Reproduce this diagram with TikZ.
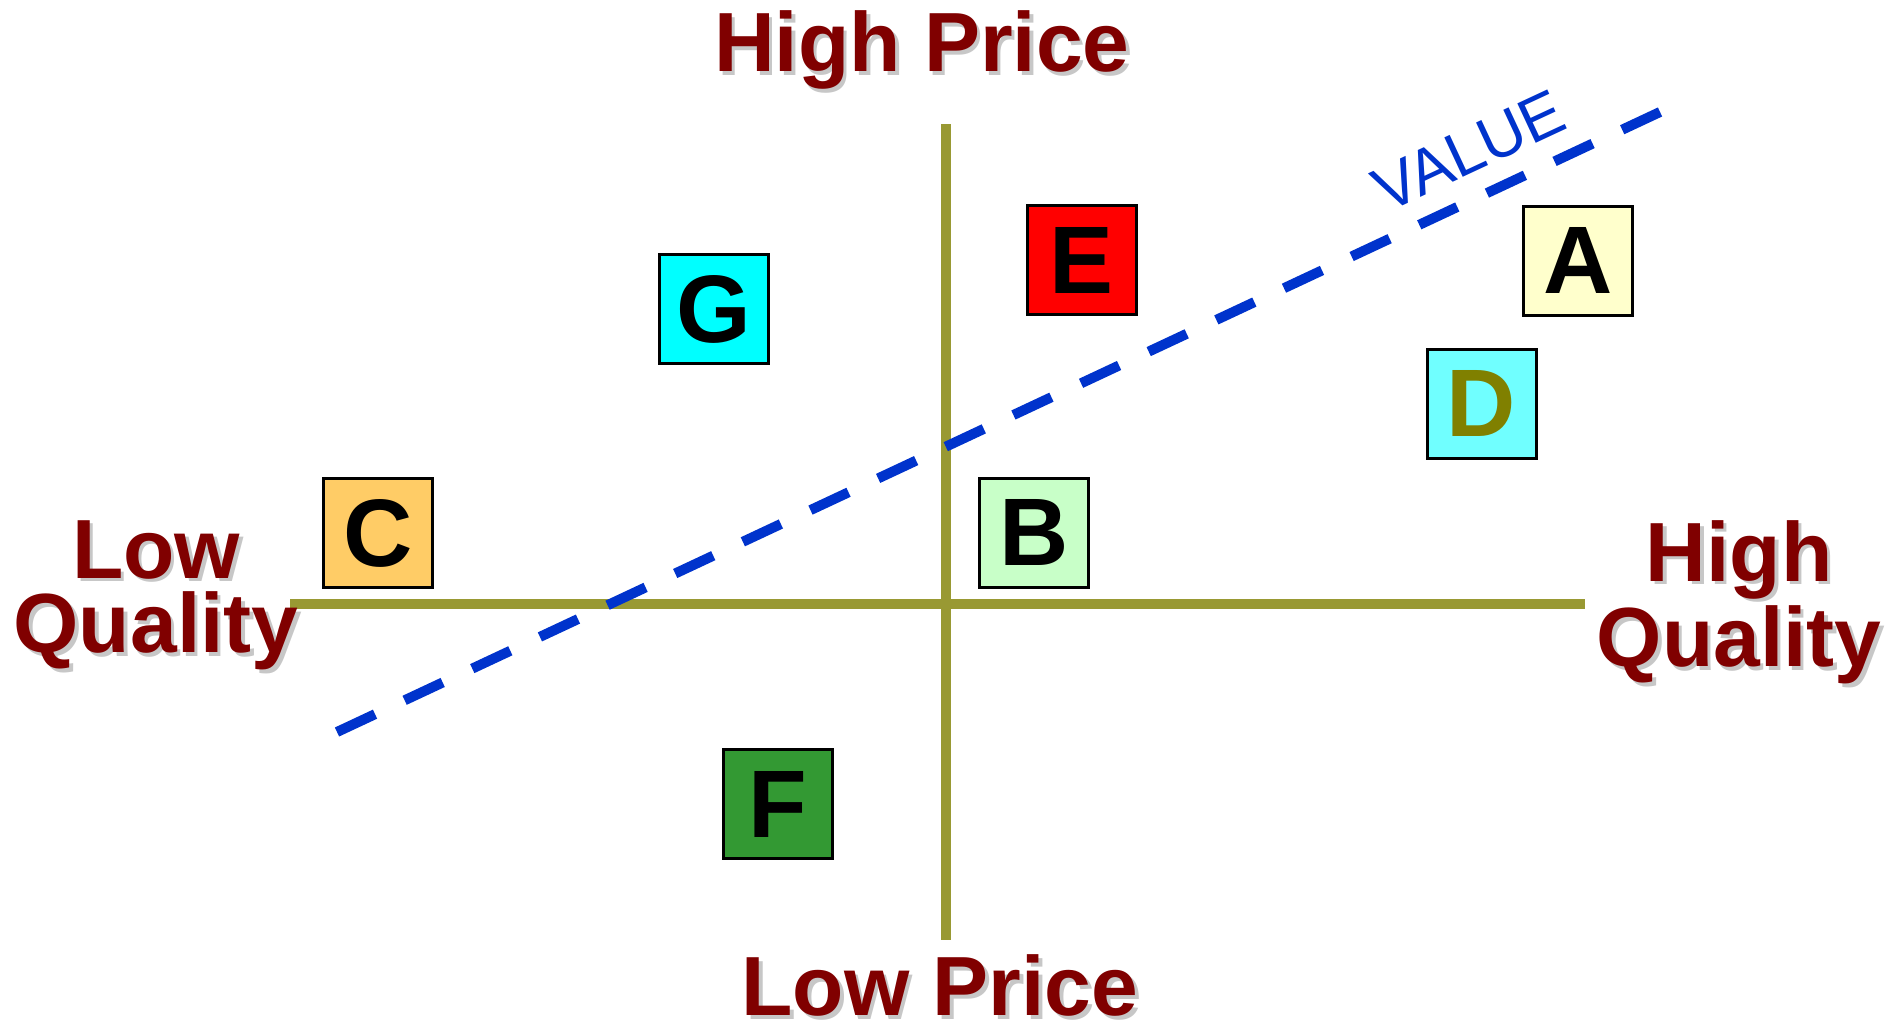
\documentclass[tikz,border=0pt]{standalone}
\usepackage{fontspec}
\setmainfont{Liberation Sans}
\usetikzlibrary{positioning}

\definecolor{labelred}{HTML}{800000}
\definecolor{axisolive}{HTML}{999933}
\definecolor{valueblue}{HTML}{0033CC}
\definecolor{darkolive}{HTML}{808000}
\definecolor{paleyellow}{HTML}{FFFFCC}
\definecolor{palegreen}{HTML}{C8FFC8}
\definecolor{lightorange}{HTML}{FFCC66}
\definecolor{lightcyan}{HTML}{70FFFF}
\definecolor{brightcyan}{HTML}{00FFFF}
\definecolor{brightred}{HTML}{FF0000}
\definecolor{midgreen}{HTML}{339933}

% soft drop shadow behind the axis labels
\newcommand{\shadowtxt}[1]{\makebox[0pt][l]{\hspace{0.035cm}\raisebox{-0.035cm}{\color{black!22}#1}}#1}

\begin{document}
\begin{tikzpicture}[
  axisline/.style={draw=axisolive,line width=0.1cm},
  valueline/.style={draw=valueblue,line width=0.1cm,dash pattern=on 0.42cm off 0.327cm},
  endlabel/.style={text=labelred,font=\fontsize{23.9}{21.3}\selectfont\bfseries,
    align=center,anchor=base,inner sep=0pt},
  brand/.style={rectangle,draw=black,line width=0.03cm,minimum size=1.09cm,
    inner sep=0pt,font=\fontsize{27.3}{32}\selectfont\bfseries}
]
\useasboundingbox (0,0) rectangle (18.91,10.22);

% axes
\coordinate (ptop) at (9.46,8.98);
\coordinate (pbot) at (9.46,0.82);
\coordinate (qleft) at (2.90,4.18);
\coordinate (qright) at (15.85,4.18);
\draw[axisline] (pbot) -- (ptop);
\draw[axisline] (qleft) -- (qright);

% value line
\coordinate (vstart) at (3.37,2.90);
\coordinate (vend) at (16.60,9.10);
\draw[valueline] (vstart) -- (vend);
\node[text=valueblue,font=\fontsize{18}{20}\selectfont,rotate=25] (value) at (14.69,8.71) {VALUE};

% axis labels (base = last line)
\node[endlabel] (hiprice) at (9.22,9.50) {\shadowtxt{High Price}};
\node[endlabel] (loprice) at (9.40,0.06) {\shadowtxt{Low Price}};
\node[endlabel] (loqual) at (1.56,3.69) {\shadowtxt{Low}\\\shadowtxt{Quality}};
\node[endlabel] (hiqual) at (17.39,3.55) {\shadowtxt{High}\\\shadowtxt{Quality}};

% brands
\node[brand,fill=paleyellow] (A) at (15.78,7.61) {A};
\node[brand,fill=palegreen] (B) at (10.34,4.89) {B};
\node[brand,fill=lightorange] (C) at (3.78,4.89) {C};
\node[brand,fill=lightcyan,text=darkolive] (D) at (14.815,6.18) {D};
\node[brand,fill=brightred] (E) at (10.815,7.615) {E};
\node[brand,fill=midgreen] (F) at (7.78,2.175) {F};
\node[brand,fill=brightcyan] (G) at (7.14,7.13) {G};
\end{tikzpicture}
\end{document}
